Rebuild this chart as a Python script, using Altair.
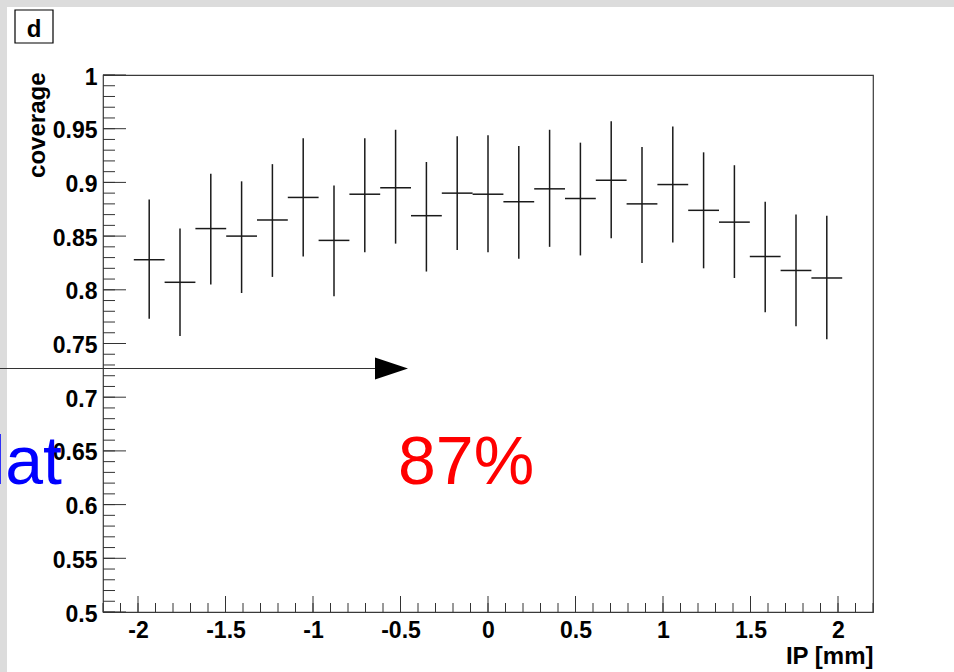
import altair as alt
import pandas as pd

# ---- data ----
ip = [-1.936, -1.760, -1.584, -1.408, -1.232, -1.056, -0.880, -0.704, -0.528, -0.352,
      -0.176, 0.000, 0.176, 0.352, 0.528, 0.704, 0.880, 1.056, 1.232, 1.408,
      1.584, 1.760, 1.936]
coverage = [0.828, 0.807, 0.857, 0.850, 0.865, 0.886, 0.846, 0.889, 0.895, 0.869,
            0.890, 0.889, 0.882, 0.894, 0.885, 0.902, 0.880, 0.898, 0.874, 0.863,
            0.831, 0.818, 0.811]
cov_lo = [0.773, 0.757, 0.805, 0.797, 0.812, 0.831, 0.794, 0.835, 0.843, 0.817,
          0.837, 0.835, 0.829, 0.840, 0.832, 0.848, 0.825, 0.844, 0.820, 0.811,
          0.779, 0.766, 0.754]
cov_hi = [0.884, 0.857, 0.908, 0.901, 0.917, 0.941, 0.897, 0.941, 0.949, 0.919,
          0.943, 0.944, 0.934, 0.949, 0.937, 0.957, 0.933, 0.952, 0.928, 0.916,
          0.882, 0.870, 0.869]
bin_half = 0.088

x_major = [-2, -1.5, -1, -0.5, 0, 0.5, 1, 1.5, 2]
y_major = [0.5, 0.55, 0.6, 0.65, 0.7, 0.75, 0.8, 0.85, 0.9, 0.95, 1]
x_minor = [round(-2.2 + 0.1 * k, 1) for k in range(45)]
y_minor = [round(0.5 + 0.01 * k, 2) for k in range(51)]

annot_red = ["87%"]
annot_blue = ["lat"]
panel_label = ["d"]

# ---- tables ----
df = pd.DataFrame({"ip": ip, "cov": coverage, "lo": cov_lo, "hi": cov_hi})
df["ip_lo"] = df["ip"] - bin_half
df["ip_hi"] = df["ip"] + bin_half
dxmin = pd.DataFrame({"v": x_minor})
dxmaj = pd.DataFrame({"v": x_major})
dymin = pd.DataFrame({"v": y_minor})
dymaj = pd.DataFrame({"v": y_major})
one = pd.DataFrame({"k": [0]})

W, H = 770, 537
FONT = "Liberation Sans"
xs = alt.Scale(domain=[-2.2, 2.2], nice=False, zero=False)
ys = alt.Scale(domain=[0.5, 1.0], nice=False, zero=False)

x_axis = alt.Axis(values=x_major, labelExpr="datum.value", ticks=False, tickSize=0,
                  domain=False, grid=False, labelFont=FONT, labelFontWeight="bold",
                  labelFontSize=23, labelColor="black", labelPadding=7,
                  labelBaseline="top", labelFlush=False, labelOverlap=False,
                  title="IP [mm]", titleFont=FONT, titleFontWeight="bold",
                  titleFontSize=24, titleColor="black", titleX=W, titleY=51,
                  titleAlign="right", titleBaseline="alphabetic")
y_axis = alt.Axis(values=y_major, labelExpr="datum.value", ticks=False, tickSize=0,
                  domain=False, grid=False, labelFont=FONT, labelFontWeight="bold",
                  labelFontSize=23, labelColor="black", labelPadding=6,
                  labelOffset=2, labelFlush=False, labelOverlap=False,
                  title="coverage", titleFont=FONT, titleFontWeight="bold",
                  titleFontSize=24, titleColor="black", titleAngle=270,
                  titleX=-59, titleY=-3, titleAlign="right",
                  titleBaseline="alphabetic")

# error bars (carry the axes)
hbar = alt.Chart(df).mark_rule(color="#1a1a1a", strokeWidth=1.5).encode(
    x=alt.X("ip_lo:Q", scale=xs, axis=x_axis), x2="ip_hi:Q",
    y=alt.Y("cov:Q", scale=ys, axis=y_axis))
vbar = alt.Chart(df).mark_rule(color="#1a1a1a", strokeWidth=1.5).encode(
    x=alt.X("ip:Q", scale=xs, axis=x_axis),
    y=alt.Y("lo:Q", scale=ys, axis=y_axis), y2="hi:Q")

# gray canvas strips (top and left)
strip_top = alt.Chart(one).mark_rect(color="#dcdcdc").encode(
    x=alt.value(-103), x2=alt.value(851), y=alt.value(-75), y2=alt.value(-68))
strip_left = alt.Chart(one).mark_rect(color="#dcdcdc").encode(
    x=alt.value(-103), x2=alt.value(-96), y=alt.value(-75), y2=alt.value(H + 60))

# ticks (inside the frame)
tick_col = "#333333"
xminor = alt.Chart(dxmin).mark_rule(color=tick_col, strokeWidth=1).encode(
    x=alt.X("v:Q", scale=xs, axis=x_axis), y=alt.value(H), y2=alt.value(H - 9))
xmajor = alt.Chart(dxmaj).mark_rule(color=tick_col, strokeWidth=1).encode(
    x=alt.X("v:Q", scale=xs, axis=x_axis), y=alt.value(H), y2=alt.value(H - 16))
yminor = alt.Chart(dymin).mark_rule(color=tick_col, strokeWidth=1).encode(
    y=alt.Y("v:Q", scale=ys, axis=y_axis), x=alt.value(0), x2=alt.value(12))
ymajor = alt.Chart(dymaj).mark_rule(color=tick_col, strokeWidth=1).encode(
    y=alt.Y("v:Q", scale=ys, axis=y_axis), x=alt.value(0), x2=alt.value(23))

# arrow
arrow_line = alt.Chart(one).mark_rule(color="#333333", strokeWidth=1.2).encode(
    x=alt.value(-103), x2=alt.value(273), y=alt.value(293.5))
arrow_head = alt.Chart(one).mark_point(
    shape="M-1,-0.667L1,0L-1,0.667Z", filled=True, size=1089, color="black",
    opacity=1, strokeWidth=0).encode(x=alt.value(288.5), y=alt.value(293.5))

# texts
red_txt = alt.Chart(pd.DataFrame({"t": annot_red})).mark_text(
    font=FONT, fontSize=68, color="#ff0000", align="left", baseline="alphabetic"
).encode(x=alt.value(295), y=alt.value(409), text="t:N")
blue_txt = alt.Chart(pd.DataFrame({"t": annot_blue})).mark_text(
    font=FONT, fontSize=68, color="#0000ff", align="right", baseline="alphabetic"
).encode(x=alt.value(-41), y=alt.value(409), text="t:N")

# panel label box "d"
box = alt.Chart(one).mark_rect(fill="white", stroke="black", strokeWidth=1.2).encode(
    x=alt.value(-88), x2=alt.value(-50), y=alt.value(-65), y2=alt.value(-32))
box_txt = alt.Chart(pd.DataFrame({"t": panel_label})).mark_text(
    font=FONT, fontSize=24, fontWeight="bold", color="black", align="center",
    baseline="alphabetic").encode(x=alt.value(-69), y=alt.value(-38), text="t:N")

chart = alt.layer(
    hbar, vbar, strip_top, strip_left, xminor, xmajor, yminor, ymajor,
    arrow_line, arrow_head, red_txt, blue_txt, box, box_txt
).properties(
    width=W, height=H, autosize="none",
    padding={"left": 103, "top": 75, "right": 81, "bottom": 60},
    background="white"
).configure_view(stroke="#3a3a3a", strokeWidth=1.2)

chart.save("out.html", embed_options={"renderer": "svg", "actions": False})
